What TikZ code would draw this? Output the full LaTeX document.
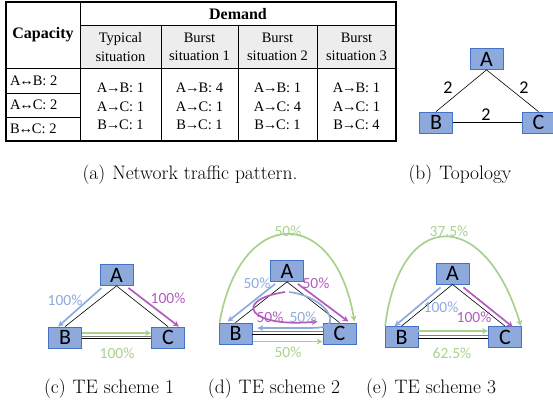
\documentclass[tikz,border=0pt]{standalone}
\usepackage{fontspec}
\newfontfamily\tabfont{Liberation Serif}
\newfontfamily\calfont{Carlito}
\usetikzlibrary{arrows.meta,calc}
\definecolor{boxfill}{RGB}{142,169,219}
\definecolor{boxdraw}{RGB}{68,114,196}
\definecolor{lblue}{RGB}{143,170,220}
\definecolor{mag}{RGB}{178,92,190}
\definecolor{lgreen}{RGB}{169,209,142}
\definecolor{hdrgray}{RGB}{237,237,237}
\newcommand{\tra}{\kern-1.2pt→\kern-1.2pt}
\newcommand{\tlr}{\kern-1.2pt↔\kern-1.2pt}
\begin{document}
\begin{tikzpicture}[x=1pt,y=-1pt,
  netbox/.style={rectangle,fill=boxfill,draw=boxdraw,line width=0.8pt,minimum width=33pt,minimum height=21pt,inner sep=0pt,font=\calfont\fontsize{22}{22}\selectfont},
  link/.style={line width=0.6pt,black},
  linkgray/.style={line width=0.8pt,gray},
  flow/.style={line width=1.7pt,-{Stealth[length=6pt,width=6pt]}},
  pct/.style={inner sep=0pt,font=\calfont\fontsize{15.5}{15.5}\selectfont},
  twolbl/.style={inner sep=0pt,font=\calfont\fontsize{18}{18}\selectfont},
  capn/.style={inner sep=0pt,font=\fontsize{19.5}{22}\selectfont},
  tabtxt/.style={inner sep=0pt,align=center,font=\tabfont\fontsize{14.5}{18.5}\selectfont},
  tabbold/.style={inner sep=0pt,font=\tabfont\bfseries\fontsize{16}{18}\selectfont},
  tabrule/.style={line width=0.6pt},
  tabouter/.style={line width=1.1pt}]
\useasboundingbox (0,0) rectangle (553,417);

% ---------------- (a) table ----------------
\fill[hdrgray] (80,25) rectangle (396,68);
\draw[tabrule] (80,25) -- (396,25);
\draw[tabrule] (6,68) -- (396,68);
\draw[tabrule] (6,93) -- (80,93);
\draw[tabrule] (6,117) -- (80,117);
\draw[tabrule] (80,2) -- (80,141);
\draw[tabrule] (161,25) -- (161,141);
\draw[tabrule] (238,25) -- (238,141);
\draw[tabrule] (317,25) -- (317,141);
\draw[tabouter] (6,2) rectangle (396,141);

\node[tabbold] (hcap) at (43,35) {Capacity};
\node[tabbold] (hdem) at (238,14) {Demand};
\node[tabtxt] (h1) at (120.5,47) {Typical\\situation};
\node[tabtxt] (h2) at (199.5,47) {Burst\\situation 1};
\node[tabtxt] (h3) at (277.5,47) {Burst\\situation 2};
\node[tabtxt] (h4) at (356.5,47) {Burst\\situation 3};
\node[tabtxt,anchor=west] (c1) at (10,81) {A\tlr B: 2};
\node[tabtxt,anchor=west] (c2) at (10,105) {A\tlr C: 2};
\node[tabtxt,anchor=west] (c3) at (10,129) {B\tlr C: 2};
\node[tabtxt] (d1) at (120.5,106.5) {A\tra B: 1\\A\tra C: 1\\B\tra C: 1};
\node[tabtxt] (d2) at (199.5,106.5) {A\tra B: 4\\A\tra C: 1\\B\tra C: 1};
\node[tabtxt] (d3) at (277.5,106.5) {A\tra B: 1\\A\tra C: 4\\B\tra C: 1};
\node[tabtxt] (d4) at (356.5,106.5) {A\tra B: 1\\A\tra C: 1\\B\tra C: 4};

\node[capn] (capa) at (190,175) {(a)\hspace{7pt}Network traffic pattern.};

% ---------------- (b) topology ----------------
\node[netbox] (bA) at (486.5,59) {A};
\node[netbox] (bB) at (436,122.5) {B};
\node[netbox] (bC) at (538.5,122.5) {C};
\draw[link] (bA.south) -- (bB.north);
\draw[link] (bA.south) -- (bC.north);
\draw[link] (bB.east) -- (bC.west);
\node[twolbl] (l1) at (448,88) {2};
\node[twolbl] (l2) at (524,88) {2};
\node[twolbl] (l3) at (486,115) {2};
\node[capn] (capb) at (460,175) {(b)\hspace{7pt}Topology};

% ---------------- (c) TE scheme 1 ----------------
\node[netbox] (cA) at (116.5,275) {A};
\node[netbox] (cB) at (65,337.5) {B};
\node[netbox] (cC) at (168,337.5) {C};
\draw[link] (cA.south) -- (cB.north);
\draw[link] (cA.south) -- (cC.north);
\draw[link] ([yshift=-0.8]cB.east) -- ([yshift=-0.8]cC.west);
\draw[linkgray] ([yshift=1.6]cB.east) -- ([yshift=1.6]cC.west);
\draw[flow,lblue] ([shift={(2,2)}]cA.south west) -- ([shift={(10,0)}]cB.north west);
\draw[flow,mag] ([shift={(-5,2)}]cA.south east) -- ([shift={(-6,0)}]cC.north east);
\draw[flow,lgreen] ([yshift=4.5]cB.east) -- ([yshift=4.5]cC.west);
\node[pct,lblue] (cp1) at (65,300) {100\%};
\node[pct,mag] (cp2) at (168,298) {100\%};
\node[pct,lgreen] (cp3) at (117,353) {100\%};
\node[capn] (capc) at (109,389) {(c)\hspace{7pt}TE scheme 1};

% ---------------- (d) TE scheme 2 ----------------
\node[netbox] (dA) at (287,271) {A};
\node[netbox] (dB) at (235.5,333.5) {B};
\node[netbox] (dC) at (339.5,333.5) {C};
\draw[link] (dA.south) -- (dB.north);
\draw[link] (dA.south) -- (dC.north);
\draw[link] ([yshift=-0.5]dB.east) -- ([yshift=-0.5]dC.west);
\draw[linkgray] ([yshift=2]dB.east) -- ([yshift=2]dC.west);
\draw[flow,lgreen] ([shift={(1,0)}]dB.north west) .. controls (240,205) and (335,205) .. ([shift={(-2,-1)}]dC.north east);
\draw[flow,lblue] ([shift={(5,2)}]dA.south west) -- ([shift={(9,-1)}]dB.north west);
\draw[flow,mag] ([shift={(-6,2)}]dA.south east) -- ([shift={(-8,-1)}]dC.north east);
\coordinate (dm0) at (285,292);
\draw[flow,mag] (dm0) .. controls (232,300) and (248,328) .. ([shift={(-5,-12)}]dC.west);
\coordinate (db0) at (289,292);
\draw[flow,lblue] (db0) .. controls (315,295) and (333,312) .. (330,322) .. controls (328,328) and (320,328) .. (300,328) -- ([shift={(5,-5.5)}]dB.east);
\draw[flow,lgreen] ([shift={(1,8)}]dB.east) -- ([shift={(0,8)}]dC.west);
\node[pct,lgreen] (dp1) at (288,231) {50\%};
\node[pct,lblue] (dp2) at (257,283) {50\%};
\node[pct,mag] (dp3) at (316,283) {50\%};
\node[pct,mag] (dp4) at (270,317) {50\%};
\node[pct,lblue] (dp5) at (303,317) {50\%};
\node[pct,lgreen] (dp6) at (288,352) {50\%};
\node[capn] (capd) at (274,389) {(d)\hspace{7pt}TE scheme 2};

% ---------------- (e) TE scheme 3 ----------------
\node[netbox] (eA) at (452.5,273.5) {A};
\node[netbox] (eB) at (401.5,337) {B};
\node[netbox] (eC) at (505,337) {C};
\draw[link] (eA.south) -- (eB.north);
\draw[link] (eA.south) -- (eC.north);
\draw[link] ([yshift=-0.8]eB.east) -- ([yshift=-0.8]eC.west);
\draw[linkgray] ([yshift=1.6]eB.east) -- ([yshift=1.6]eC.west);
\draw[flow,lgreen] ([shift={(0.5,0)}]eB.north west) .. controls (400,207) and (485,207) .. ([shift={(-1,0)}]eC.north east);
\draw[flow,lblue] ([shift={(5,3)}]eA.south west) -- ([shift={(10,0)}]eB.north west);
\draw[flow,mag] ([shift={(-6,3)}]eA.south east) -- ([shift={(-9,1)}]eC.north east);
\draw[flow,lgreen] ([yshift=6]eB.east) -- ([yshift=6]eC.west);
\node[pct,lgreen] (ep1) at (449,231) {37.5\%};
\node[pct,lblue] (ep2) at (441,307) {100\%};
\node[pct,mag] (ep3) at (474,317) {100\%};
\node[pct,lgreen] (ep4) at (452,353) {62.5\%};
\node[capn] (cape) at (431,389) {(e)\hspace{7pt}TE scheme 3};
\end{tikzpicture}
\end{document}
